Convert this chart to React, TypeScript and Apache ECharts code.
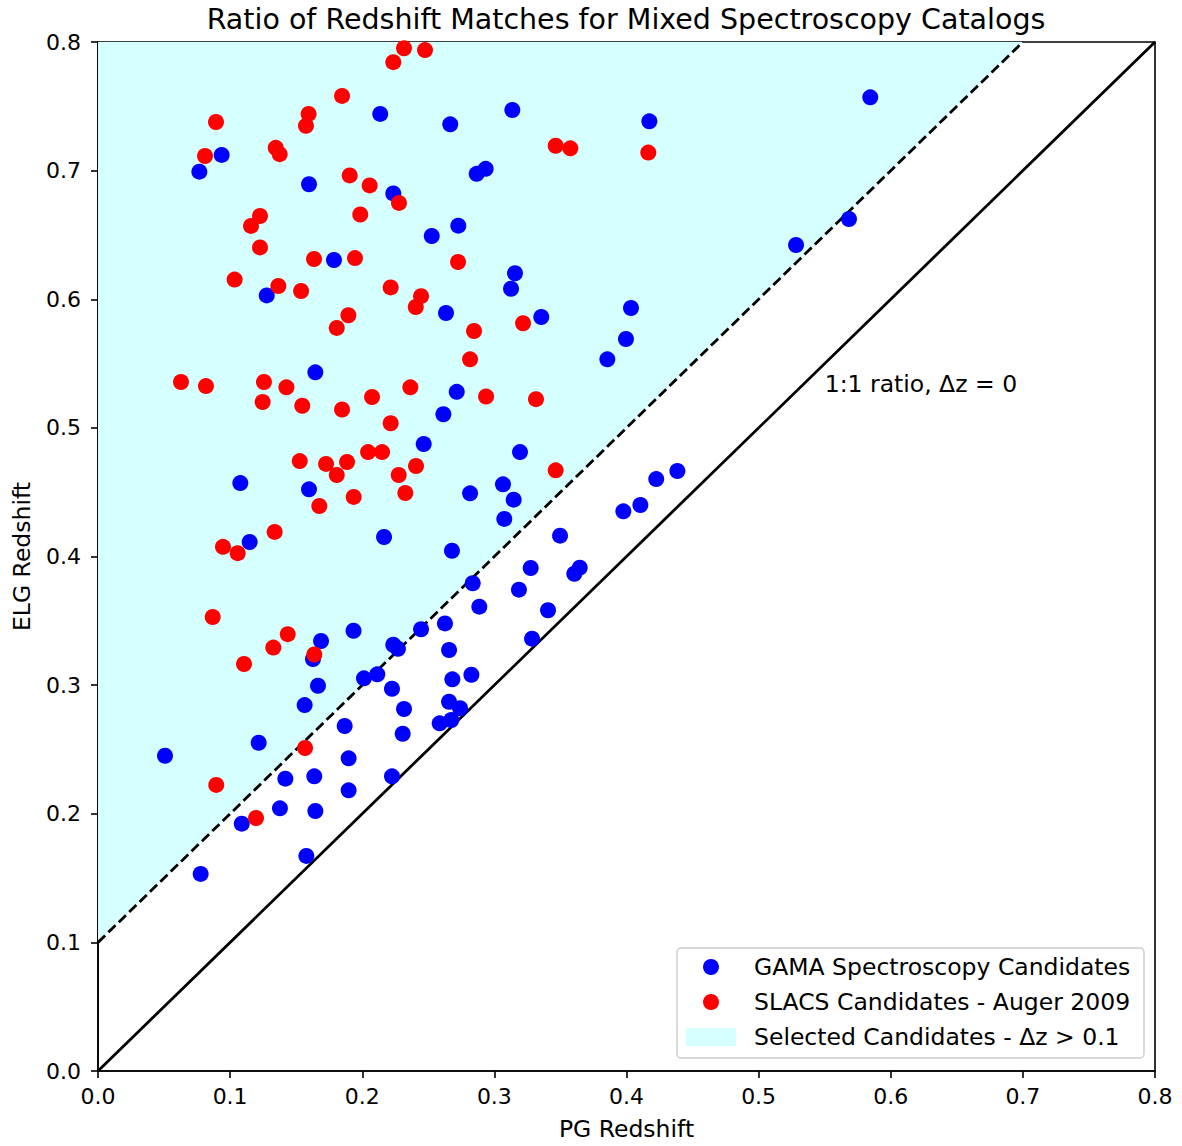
import React, { useEffect, useRef } from "react";
import * as echarts from "echarts";

const gamaPG = [
  0.2136, 0.2666, 0.0936, 0.0767, 0.1597, 0.2235, 0.2526, 0.2727, 0.1786, 0.1277,
  0.2634, 0.1645, 0.3136, 0.4173, 0.2934, 0.2866, 0.3156, 0.3126, 0.4034, 0.3355,
  0.3996, 0.3855, 0.5283, 0.5845, 0.5684, 0.2715, 0.2614, 0.2465, 0.1077, 0.1597,
  0.2165, 0.1148, 0.2679, 0.1934, 0.1688, 0.2626, 0.2445, 0.2235, 0.227, 0.1627,
  0.2657, 0.2682, 0.1665, 0.2013, 0.2114, 0.2225, 0.1564, 0.2316, 0.2657, 0.3194,
  0.3065, 0.2816, 0.3146, 0.3075, 0.4385, 0.4225, 0.4105, 0.3976, 0.3497, 0.3646,
  0.3605, 0.3275, 0.2836, 0.3186, 0.2886, 0.3406, 0.3285, 0.2826, 0.274, 0.2586,
  0.2674, 0.1867, 0.2306, 0.1216, 0.0507, 0.1897, 0.1418, 0.1637, 0.2225, 0.1897,
  0.1377, 0.1645, 0.1088, 0.1577, 0.0777,
];
const gamaELG = [
  0.7441, 0.736, 0.7122, 0.6992, 0.6894, 0.6823, 0.6492, 0.6572, 0.6305, 0.603,
  0.5893, 0.5432, 0.7471, 0.7383, 0.7014, 0.6975, 0.6202, 0.6082, 0.5932, 0.5862,
  0.5691, 0.5533, 0.6422, 0.757, 0.6624, 0.528, 0.5106, 0.4875, 0.4571, 0.4522,
  0.4152, 0.4113, 0.4045, 0.3423, 0.3343, 0.348, 0.3434, 0.3314, 0.3283, 0.3203,
  0.3273, 0.3045, 0.2995, 0.3053, 0.3084, 0.2972, 0.2845, 0.2814, 0.2871, 0.4812,
  0.4561, 0.4491, 0.4442, 0.4292, 0.4665, 0.4602, 0.44, 0.4351, 0.4162, 0.3913,
  0.3866, 0.3911, 0.3792, 0.3742, 0.361, 0.3582, 0.3361, 0.3081, 0.282, 0.2703,
  0.2729, 0.2682, 0.2622, 0.2552, 0.2451, 0.2431, 0.2273, 0.2291, 0.2291, 0.2182,
  0.2042, 0.2021, 0.1923, 0.1672, 0.1532,
];

const slacsPG = [
  0.0628, 0.0817, 0.081, 0.0893, 0.1158, 0.1226, 0.1345, 0.1375, 0.1034, 0.1226,
  0.1365, 0.1537, 0.1574, 0.1594, 0.1847, 0.2235, 0.2316, 0.2475, 0.1905, 0.2056,
  0.1985, 0.2278, 0.1635, 0.1945, 0.2725, 0.2215, 0.2445, 0.2405, 0.1895, 0.1807,
  0.2846, 0.2816, 0.3217, 0.3464, 0.3575, 0.4165, 0.1256, 0.1426, 0.1246, 0.1546,
  0.1847, 0.2074, 0.2364, 0.2937, 0.3315, 0.2215, 0.1527, 0.1726, 0.1885, 0.2044,
  0.215, 0.1807, 0.2276, 0.2407, 0.3464, 0.1935, 0.2326, 0.1675, 0.1337, 0.0946,
  0.1057, 0.0868, 0.1436, 0.1327, 0.1105, 0.1637, 0.1567, 0.0895, 0.1196, 0.2838,
];
const slacsELG = [
  0.5357, 0.5325, 0.7114, 0.7378, 0.657, 0.6647, 0.7177, 0.7128, 0.6153, 0.6403,
  0.6103, 0.6064, 0.7348, 0.7441, 0.7581, 0.7843, 0.7951, 0.7937, 0.6963, 0.6885,
  0.6659, 0.6749, 0.6313, 0.632, 0.629, 0.6092, 0.6024, 0.594, 0.5876, 0.5777,
  0.5753, 0.5533, 0.5813, 0.7193, 0.7173, 0.714, 0.5357, 0.5315, 0.5201, 0.5172,
  0.5143, 0.524, 0.5315, 0.5244, 0.5223, 0.5036, 0.4742, 0.472, 0.4735, 0.4812,
  0.4812, 0.4634, 0.4634, 0.4704, 0.467, 0.4463, 0.4494, 0.4393, 0.4191, 0.4075,
  0.4026, 0.353, 0.3396, 0.3292, 0.3164, 0.3238, 0.2511, 0.2224, 0.1967, 0.8025,
];

const axisTicks = [0, 0.1, 0.2, 0.3, 0.4, 0.5, 0.6, 0.7, 0.8];
const oneToOneX = [0, 0.8];
const oneToOneY = [0, 0.8];
const offsetX = [0, 0.7];
const offsetY = [0.1, 0.8];
const fillX = [0, 0.7, 0];
const fillY = [0.1, 0.8, 0.8];

const legendLabels = [
  "GAMA Spectroscopy Candidates",
  "SLACS Candidates - Auger 2009",
  "Selected Candidates - \u0394z > 0.1",
];
const annotation = { text: "1:1 ratio, \u0394z = 0", x: 0.55, y: 0.525 };

const FONT = "DejaVu Sans";
const BLUE = "#0000ff";
const RED = "#ff0000";
const CYAN = "#d6ffff";

export default function App() {
  const ref = useRef<HTMLDivElement>(null);

  useEffect(() => {
    document.body.style.margin = "0";
    const chart = echarts.init(ref.current!, null, { renderer: "svg" });
    const zip = (a: number[], b: number[]) => a.map((v, i) => [v, b[i]]);

    const axisCommon = {
      type: "value",
      min: axisTicks[0],
      max: axisTicks[axisTicks.length - 1],
      interval: 0.1,
      splitLine: { show: false },
      axisLine: { show: true, lineStyle: { color: "#000", width: 1.6 } },
      axisTick: { show: true, inside: false, length: 7, lineStyle: { color: "#000", width: 1.6 } },
      nameLocation: "middle",
      nameTextStyle: { fontFamily: FONT, fontSize: 23.5, color: "#000" },
    };

    chart.setOption({
      animation: false,
      backgroundColor: "#fff",
      title: {
        text: "Ratio of Redshift Matches for Mixed Spectroscopy Catalogs",
        left: 621,
        top: 0,
        textAlign: "center",
        textStyle: { fontFamily: FONT, fontSize: 28.5, fontWeight: "normal", color: "#000" },
      },
      grid: {
        left: 98,
        right: 27,
        top: 42,
        bottom: 75,
        show: true,
        borderColor: "#000",
        borderWidth: 1.6,
        backgroundColor: "transparent",
      },
      xAxis: {
        ...axisCommon,
        name: "PG Redshift",
        nameGap: 46,
        axisLabel: {
          margin: 14,
          fontFamily: FONT,
          fontSize: 22,
          color: "#000",
          formatter: (v: number) => v.toFixed(1),
        },
      },
      yAxis: {
        ...axisCommon,
        name: "ELG Redshift",
        nameGap: 64,
        axisLabel: {
          margin: 17,
          fontFamily: FONT,
          fontSize: 22,
          color: "#000",
          formatter: (v: number) => v.toFixed(1),
        },
      },
      series: [
        {
          type: "custom",
          name: legendLabels[2],
          data: [[fillX[0], fillY[0]]],
          z: 1,
          silent: true,
          renderItem: (params: any, api: any) => {
            const pts = fillX.map((x, i) => api.coord([x, fillY[i]]));
            return { type: "polygon", shape: { points: pts }, style: { fill: CYAN } };
          },
        },
        {
          type: "line",
          data: zip(offsetX, offsetY),
          symbol: "none",
          z: 3,
          lineStyle: { color: "#000", width: 2.8, type: [10, 4.5] },
        },
        {
          type: "line",
          data: zip(oneToOneX, oneToOneY),
          symbol: "none",
          z: 3,
          lineStyle: { color: "#000", width: 2.8 },
        },
        {
          type: "scatter",
          name: legendLabels[0],
          data: zip(gamaPG, gamaELG),
          symbolSize: 16,
          z: 5,
          clip: true,
          itemStyle: { color: BLUE, opacity: 1 },
        },
        {
          type: "scatter",
          name: legendLabels[1],
          data: zip(slacsPG, slacsELG),
          symbolSize: 16,
          z: 6,
          clip: true,
          itemStyle: { color: RED, opacity: 1 },
        },
      ],
    });

    const ap = chart.convertToPixel({ gridIndex: 0 }, [annotation.x, annotation.y]) as number[];
    const lx = 677;
    const ly = 948;
    const rowY = [19, 54, 89];
    chart.setOption({
      graphic: [
        {
          type: "text",
          x: ap[0],
          y: ap[1],
          z: 10,
          style: {
            text: annotation.text,
            fontFamily: FONT,
            fontSize: 23.5,
            fill: "#000",
            textAlign: "left",
            textVerticalAlign: "bottom",
          },
        },
        {
          type: "group",
          x: lx,
          y: ly,
          z: 20,
          children: [
            {
              type: "rect",
              shape: { x: 0, y: 0, width: 467, height: 110, r: 4 },
              style: { fill: "rgba(255,255,255,0.8)", stroke: "#cccccc", lineWidth: 1.4 },
            },
            { type: "circle", shape: { cx: 34, cy: rowY[0], r: 8 }, style: { fill: BLUE } },
            { type: "circle", shape: { cx: 34, cy: rowY[1], r: 8 }, style: { fill: RED } },
            { type: "rect", shape: { x: 9, y: rowY[2] - 9, width: 50, height: 18 }, style: { fill: CYAN } },
            ...legendLabels.map((t, i) => ({
              type: "text",
              x: 77,
              y: rowY[i],
              style: {
                text: t,
                fontFamily: FONT,
                fontSize: 23.5,
                fill: "#000",
                textAlign: "left",
                textVerticalAlign: "middle",
              },
            })),
          ],
        },
      ],
    });

    return () => chart.dispose();
  }, []);

  return <div ref={ref} style={{ width: 1182, height: 1146 }} />;
}
